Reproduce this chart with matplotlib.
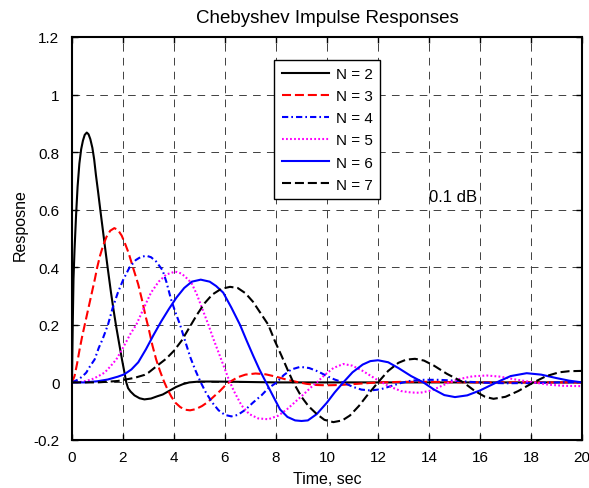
import numpy as np
import matplotlib
matplotlib.use('Agg')
import matplotlib.pyplot as plt
from matplotlib import rcParams
from matplotlib.ticker import FuncFormatter

rcParams['font.family'] = ['Liberation Sans', 'DejaVu Sans']
rcParams['axes.unicode_minus'] = False
rcParams['lines.scale_dashes'] = False

# values (time in sec, response)
t2 = [0, 0.03, 0.06, 0.1, 0.16, 0.22, 0.29, 0.36, 0.43, 0.5, 0.58, 0.65, 0.72, 0.8, 0.87,
      0.94, 1.02, 1.11, 1.2, 1.3, 1.39, 1.53, 1.63, 1.73, 1.85, 1.96, 2.05, 2.13, 2.2, 2.3,
      2.45, 2.65, 2.84, 3.1, 3.35, 3.56, 3.8, 4.08, 4.35, 4.6, 5.0, 5.5, 6.5, 8, 10, 13, 16, 20]
y2 = [0, 0.2, 0.36, 0.46, 0.58, 0.68, 0.76, 0.81, 0.84, 0.86, 0.868, 0.862, 0.845, 0.815, 0.775,
      0.72, 0.665, 0.60, 0.537, 0.467, 0.405, 0.312, 0.252, 0.196, 0.135, 0.08, 0.038, 0.0, -0.02, -0.032,
      -0.045, -0.055, -0.059, -0.056, -0.048, -0.042, -0.03, -0.016, -0.006, 0.0, 0.003, 0.003, 0.002, 0.0, 0, 0, 0, 0]

t3 = [0, 0.1, 0.2, 0.3, 0.4, 0.5, 0.6, 0.7, 0.8, 0.9, 0.99, 1.1, 1.22, 1.35, 1.5, 1.66, 1.8, 1.95,
      2.1, 2.22, 2.39, 2.6, 2.75, 2.9, 3.0, 3.15, 3.3, 3.45, 3.6, 3.75, 3.9, 4.05, 4.25, 4.45, 4.63,
      4.85, 5.1, 5.33, 5.55, 5.8, 6.07, 6.25, 6.5, 6.8, 7.2, 7.6, 8.0, 8.4, 8.8, 9.2, 9.6, 10.0,
      10.5, 11, 11.5, 12, 13, 14, 15, 16, 18, 20]
y3 = [0, 0.022, 0.065, 0.115, 0.16, 0.2, 0.24, 0.28, 0.32, 0.36, 0.40, 0.44, 0.475, 0.505, 0.527, 0.536, 0.53, 0.51,
      0.478, 0.45, 0.40, 0.34, 0.285, 0.225, 0.19, 0.13, 0.08, 0.04, 0.005, -0.025, -0.05, -0.07, -0.086, -0.095, -0.097,
      -0.093, -0.082, -0.068, -0.05, -0.03, -0.005, 0.005, 0.018, 0.027, 0.031, 0.028, 0.02, 0.01, 0.002, -0.005, -0.009, -0.01,
      -0.009, -0.006, -0.003, 0.0, 0.002, 0.002, 0.001, 0, 0, 0]

t4 = [0, 0.24, 0.4, 0.56, 0.7, 0.89, 1.05, 1.2, 1.41, 1.6, 1.8, 2.0, 2.26, 2.5, 2.7, 2.92, 3.1, 3.3,
      3.55, 3.7, 3.88, 4.05, 4.24, 4.45, 4.65, 4.85, 5.05, 5.25, 5.5, 5.75, 6.0, 6.25, 6.5, 6.8, 7.1,
      7.43, 7.7, 8.03, 8.3, 8.6, 8.95, 9.3, 9.65, 10.0, 10.3, 10.64, 11.0, 11.35, 11.7, 12.1, 12.5,
      12.9, 13.3, 13.8, 14.4, 15, 15.6, 16.2, 17, 18, 19, 20]
y4 = [0, 0.01, 0.02, 0.034, 0.055, 0.08, 0.12, 0.15, 0.2, 0.26, 0.312, 0.355, 0.4, 0.425, 0.436, 0.44, 0.435, 0.42,
      0.39, 0.35, 0.29, 0.245, 0.2, 0.14, 0.085, 0.04, 0.0, -0.035, -0.07, -0.097, -0.113, -0.118, -0.113, -0.095, -0.07,
      -0.045, -0.02, 0.0, 0.025, 0.045, 0.054, 0.05, 0.038, 0.022, 0.01, 0.0, -0.015, -0.025, -0.028, -0.024, -0.013,
      -0.002, 0.006, 0.009, 0.009, 0.006, 0.002, -0.001, -0.003, -0.002, 0.0, 0.001]

t5 = [0, 0.4, 0.76, 1.0, 1.28, 1.5, 1.74, 2.0, 2.3, 2.52, 2.8, 3.1, 3.4, 3.7, 4.05, 4.3, 4.5, 4.69,
      4.9, 5.1, 5.35, 5.55, 5.8, 6.0, 6.15, 6.35, 6.65, 6.95, 7.3, 7.7, 8.1, 8.45, 8.75, 9.1, 9.4,
      9.6, 9.9, 10.25, 10.64, 11.0, 11.4, 11.95, 12.4, 12.9, 13.3, 13.65, 14.1, 14.5, 14.8, 15.2,
      15.7, 16.26, 16.8, 17.4, 18.1, 18.7, 19.3, 20]
y5 = [0, 0.002, 0.01, 0.02, 0.034, 0.055, 0.08, 0.12, 0.17, 0.2, 0.255, 0.312, 0.35, 0.375, 0.385, 0.378, 0.362, 0.345,
      0.305, 0.258, 0.2, 0.15, 0.092, 0.045, 0.01, -0.03, -0.08, -0.11, -0.125, -0.128, -0.115, -0.092, -0.068, -0.04, -0.015,
      0.0, 0.025, 0.05, 0.064, 0.058, 0.04, 0.01, -0.012, -0.03, -0.035, -0.036, -0.028, -0.012, 0.0, 0.012,
      0.021, 0.024, 0.02, 0.01, 0.0, -0.008, -0.012, -0.013]

t6 = [0, 0.5, 1.0, 1.4, 1.8, 2.05, 2.33, 2.6, 2.9, 3.2, 3.5, 3.8, 4.1, 4.4, 4.7, 5.05, 5.4, 5.65,
      5.93, 6.25, 6.59, 6.85, 7.11, 7.35, 7.61, 7.9, 8.16, 8.45, 8.75, 9.0, 9.25, 9.6, 9.99, 10.3,
      10.64, 11.0, 11.4, 11.7, 12.0, 12.4, 12.8, 13.3, 13.78, 14.2, 14.6, 15.02, 15.5, 16.0, 16.65,
      17.2, 17.83, 18.4, 19.0, 19.5, 20]
y6 = [0, 0.0, 0.004, 0.01, 0.02, 0.028, 0.045, 0.07, 0.115, 0.165, 0.212, 0.255, 0.295, 0.328, 0.35, 0.357, 0.35, 0.335,
      0.312, 0.26, 0.2, 0.145, 0.092, 0.045, 0.0, -0.05, -0.094, -0.12, -0.132, -0.134, -0.132, -0.11, -0.071, -0.035,
      0.0, 0.035, 0.062, 0.074, 0.077, 0.07, 0.05, 0.022, 0.0, -0.025, -0.044, -0.051, -0.045, -0.028, 0.0,
      0.022, 0.032, 0.027, 0.015, 0.006, 0.0]

t7 = [0, 1.0, 1.5, 1.8, 2.46, 2.84, 3.0, 3.37, 3.69, 4.0, 4.3, 4.6, 4.9, 5.2, 5.5, 5.85, 6.2, 6.5,
      6.8, 7.1, 7.4, 7.7, 7.95, 8.22, 8.45, 8.68, 9.0, 9.27, 9.6, 9.9, 10.25, 10.6, 10.9, 11.25,
      11.55, 12.0, 12.4, 12.8, 13.1, 13.45, 13.8, 14.2, 14.7, 15.35, 15.8, 16.2, 16.53, 17.0, 17.5,
      18.1, 18.6, 19.1, 19.5, 20]
y7 = [0, 0.0, 0.003, 0.005, 0.016, 0.026, 0.034, 0.06, 0.082, 0.11, 0.145, 0.19, 0.235, 0.275, 0.305, 0.325, 0.332, 0.328,
      0.31, 0.28, 0.24, 0.2, 0.145, 0.092, 0.045, 0.0, -0.05, -0.082, -0.11, -0.13, -0.138, -0.132, -0.115, -0.082,
      -0.048, 0.0, 0.04, 0.068, 0.079, 0.082, 0.076, 0.058, 0.03, 0.0, -0.03, -0.05, -0.057, -0.05, -0.03,
      0.0, 0.022, 0.035, 0.039, 0.04]

xticks = np.arange(0, 21, 2)
yticks = np.arange(-0.2, 1.21, 0.2)

fig = plt.figure(figsize=(5.89, 4.89), dpi=100)
ax = fig.add_axes([0.1222, 0.0982, 0.8659, 0.8241])

lw = 1.5
ax.plot(t2, y2, color='k', lw=lw, label='N = 2')
ax.plot(t3, y3, color='#ff0000', lw=lw, linestyle=(0, (6.5, 2.8)), label='N = 3')
ax.plot(t4, y4, color='#0000ff', lw=lw, linestyle=(0, (4.5, 2.2, 1.2, 2.2)), label='N = 4')
ax.plot(t5, y5, color='#ff00ff', lw=lw, linestyle=(0, (1.3, 1.6)), label='N = 5')
ax.plot(t6, y6, color='#0000ff', lw=lw, label='N = 6')
ax.plot(t7, y7, color='k', lw=lw, linestyle=(0, (6.5, 2.8)), label='N = 7')

ax.set_xlim(0, 20)
ax.set_ylim(-0.2, 1.2)
ax.set_xticks(xticks)
ax.set_yticks(yticks)
ax.yaxis.set_major_formatter(FuncFormatter(lambda v, p: '%g' % round(v, 1)))
ax.tick_params(direction='in', top=True, right=True, length=4, width=1, labelsize=11)
ax.tick_params(axis='x', pad=7)
ax.tick_params(axis='y', pad=9)
ax.grid(True, color='#404040', lw=0.7, linestyle=(0, (5.5, 4.5)))
ax.set_axisbelow(True)
for s in ax.spines.values():
    s.set_linewidth(1.5)

ax.set_title('Chebyshev Impulse Responses', fontsize=13.5, pad=11)
ax.set_xlabel('Time, sec', fontsize=11.5, labelpad=5)
ax.set_ylabel('Resposne', fontsize=11.5)
ax.yaxis.set_label_coords(-0.086, 0.535)
ax.text(14.0, 0.645, '0.1 dB', fontsize=12, ha='left', va='center')

leg = ax.legend(loc='upper left', bbox_to_anchor=(0.396, 0.944), fontsize=11,
                handlelength=3.1, handletextpad=0.45, labelspacing=0.53, borderpad=0.5,
                borderaxespad=0, fancybox=False, framealpha=1, edgecolor='k')
leg.get_frame().set_linewidth(1.0)

fig.savefig('out.png', dpi=100)
